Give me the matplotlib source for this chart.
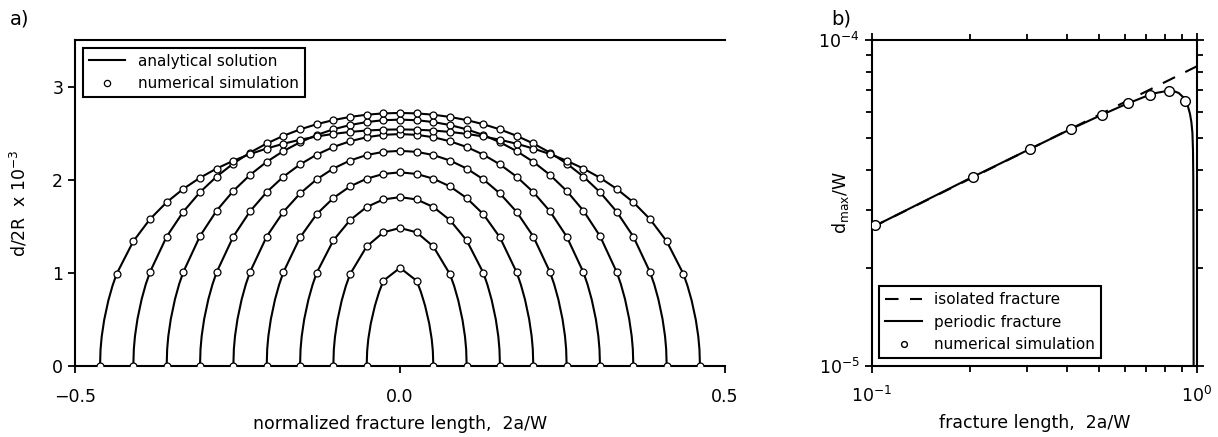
import matplotlib
matplotlib.use("Agg")
import matplotlib.pyplot as plt
from matplotlib.lines import Line2D
from matplotlib.ticker import LogLocator, NullFormatter

plt.rcParams['font.family'] = ['DejaVu Sans']
plt.rcParams['mathtext.default'] = 'regular'

# ---------------- panel a) data ----------------
# grid positions (normalized x) of the numerical nodes, right half
x_grid = [0.0, 0.0256, 0.0513, 0.0769, 0.1026, 0.1282, 0.1538, 0.1795, 0.2051,
          0.2308, 0.2564, 0.2821, 0.3077, 0.3333, 0.3590, 0.3846, 0.4103,
          0.4359, 0.4615]

# half profiles (x >= 0) of d/2R x 1e-3 for the nine fractures
prof1 = [1.054, 0.915, 0.0]
prof2 = [1.482, 1.435, 1.283, 0.985, 0.0]
prof3 = [1.813, 1.788, 1.707, 1.566, 1.348, 1.0, 0.0]
prof4 = [2.079, 2.062, 2.011, 1.928, 1.803, 1.630, 1.380, 1.005, 0.0]
prof5 = [2.310, 2.299, 2.265, 2.206, 2.120, 2.004, 1.852, 1.654, 1.390, 1.008, 0.0]
prof6 = [2.490, 2.482, 2.456, 2.413, 2.351, 2.269, 2.164, 2.032, 1.867, 1.660,
         1.390, 1.007, 0.0]
prof7 = [2.645, 2.639, 2.619, 2.587, 2.541, 2.480, 2.402, 2.307, 2.192, 2.051,
         1.880, 1.668, 1.395, 1.010, 0.0]
prof8 = [2.717, 2.712, 2.698, 2.674, 2.640, 2.596, 2.540, 2.471, 2.389, 2.291,
         2.174, 2.034, 1.866, 1.657, 1.389, 1.009, 0.0]
prof9 = [2.540, 2.537, 2.528, 2.513, 2.492, 2.464, 2.429, 2.386, 2.335, 2.275,
         2.204, 2.120, 2.021, 1.902, 1.758, 1.577, 1.339, 0.990, 0.0]
profiles = [prof1, prof2, prof3, prof4, prof5, prof6, prof7, prof8, prof9]

# analytical line between the last node and the tip:
# distance from the tip and opening as a fraction of the last-node opening
tip_offsets = [0.0192, 0.0128, 0.0064, 0.0026, 0.0008]
tip_fracs = [0.87, 0.71, 0.50, 0.32, 0.18]

# ---------------- panel b) data ----------------
sim_x = [0.1026, 0.2051, 0.3077, 0.4103, 0.5128, 0.6154, 0.7179, 0.8205, 0.9231]
sim_y = [2.70e-5, 3.81e-5, 4.63e-5, 5.33e-5, 5.90e-5, 6.40e-5, 6.79e-5, 6.97e-5, 6.52e-5]

iso_x = [0.1, 1.0]
iso_y = [2.66e-5, 8.3e-5]

per_x = [0.1, 0.2, 0.3, 0.4, 0.5, 0.6, 0.7, 0.75, 0.8, 0.85, 0.88, 0.91, 0.925,
         0.94, 0.953, 0.963, 0.970, 0.974, 0.976, 0.977, 0.978, 0.9785]
per_y = [2.66e-5, 3.76e-5, 4.58e-5, 5.27e-5, 5.84e-5, 6.33e-5, 6.73e-5, 6.88e-5,
         6.96e-5, 6.97e-5, 6.88e-5, 6.67e-5, 6.52e-5, 6.25e-5, 5.95e-5, 5.6e-5,
         5.2e-5, 4.6e-5, 3.8e-5, 2.8e-5, 1.6e-5, 0.9e-5]

# ---------------- figure ----------------
W, H = 1218, 437
fig = plt.figure(figsize=(W / 100, H / 100), dpi=100)

FS = 12.5
LFS = 11
LW = 1.5

# ---- panel a ----
ax1 = fig.add_axes([75 / W, 71 / H, 650 / W, 326 / H])
for prof in profiles:
    n = len(prof)
    xs = x_grid[:n]
    a = xs[-1]
    last = prof[-2]
    # right half of the analytical line
    xr = xs[:-1] + [a - o for o in tip_offsets] + [a]
    yr = prof[:-1] + [f * last for f in tip_fracs] + [0.0]
    xl = [-v for v in xr[:0:-1]] + xr
    yl = yr[:0:-1] + yr
    ax1.plot(xl, yl, color='black', lw=LW, zorder=2)
    xf = [-v for v in xs[:0:-1]] + xs
    yf = prof[:0:-1] + prof
    ax1.plot(xf, yf, 'o', mfc='white', mec='black', ms=5, mew=0.9, zorder=3)

ax1.set_xlim(-0.5, 0.5)
ax1.set_ylim(0, 3.5)
ax1.set_xticks([-0.5, 0.0, 0.5])
ax1.set_yticks([0, 1, 2, 3])
ax1.spines['right'].set_visible(False)
for s in ['left', 'bottom', 'top']:
    ax1.spines[s].set_linewidth(LW)
ax1.tick_params(direction='out', length=5, width=1.3, labelsize=FS)
ax1.tick_params(axis='x', pad=11)
ax1.set_xlabel('normalized fracture length,  2a/W', fontsize=FS, labelpad=6)
ax1.set_ylabel('d/2R  x 10$^{-3}$', fontsize=FS)
ax1.yaxis.set_label_coords(-0.07, 0.5)

h1 = [Line2D([], [], color='black', lw=LW),
      Line2D([], [], ls='none', marker='o', mfc='white', mec='black', ms=4.5, mew=0.9)]
leg1 = ax1.legend(h1, ['analytical solution', 'numerical simulation'],
                  loc='upper left', fontsize=LFS, fancybox=False, framealpha=1,
                  edgecolor='black', borderaxespad=0.5, handlelength=2.4)
leg1.get_frame().set_linewidth(LW)

# ---- panel b ----
ax2 = fig.add_axes([871.7 / W, 71 / H, 325 / W, 326 / H])
ax2.set_xscale('log')
ax2.set_yscale('log')
ax2.plot(iso_x, iso_y, color='black', lw=LW, ls=(0, (6.5, 5.5)), zorder=2,
         label='isolated fracture')
ax2.plot(per_x, per_y, color='black', lw=LW, zorder=3, label='periodic fracture')
ax2.plot(sim_x, sim_y, 'o', mfc='white', mec='black', ms=7, mew=1.0, zorder=4,
         label='numerical simulation')
ax2.set_xlim(0.1, 1.0)
ax2.set_ylim(1e-5, 1e-4)
ax2.xaxis.set_major_locator(LogLocator(base=10, numticks=5))
ax2.yaxis.set_major_locator(LogLocator(base=10, numticks=5))
ax2.xaxis.set_minor_locator(LogLocator(base=10, subs=range(2, 10), numticks=10))
ax2.yaxis.set_minor_locator(LogLocator(base=10, subs=range(2, 10), numticks=10))
ax2.xaxis.set_minor_formatter(NullFormatter())
ax2.yaxis.set_minor_formatter(NullFormatter())
for s in ax2.spines.values():
    s.set_linewidth(LW)
ax2.tick_params(which='both', direction='out', top=True, right=True, width=1.3,
                labelsize=FS)
ax2.tick_params(which='major', length=5)
ax2.tick_params(which='minor', length=4)
ax2.tick_params(axis='x', which='major', pad=9)
ax2.set_xlabel('fracture length,  2a/W', fontsize=FS, labelpad=6)
ax2.set_ylabel('d$_{max}$/W', fontsize=FS)
ax2.yaxis.set_label_coords(-0.065, 0.5)
leg2 = ax2.legend(loc='lower left', fontsize=LFS, fancybox=False, framealpha=1,
                  edgecolor='black', borderaxespad=0.5, markerscale=0.6,
                  handlelength=2.4)
leg2.get_frame().set_linewidth(LW)

fig.text(10 / W, 1 - 19 / H, 'a)', fontsize=14, va='center', ha='left')
fig.text(831 / W, 1 - 19 / H, 'b)', fontsize=14, va='center', ha='left')

fig.savefig('out.png', dpi=100)
